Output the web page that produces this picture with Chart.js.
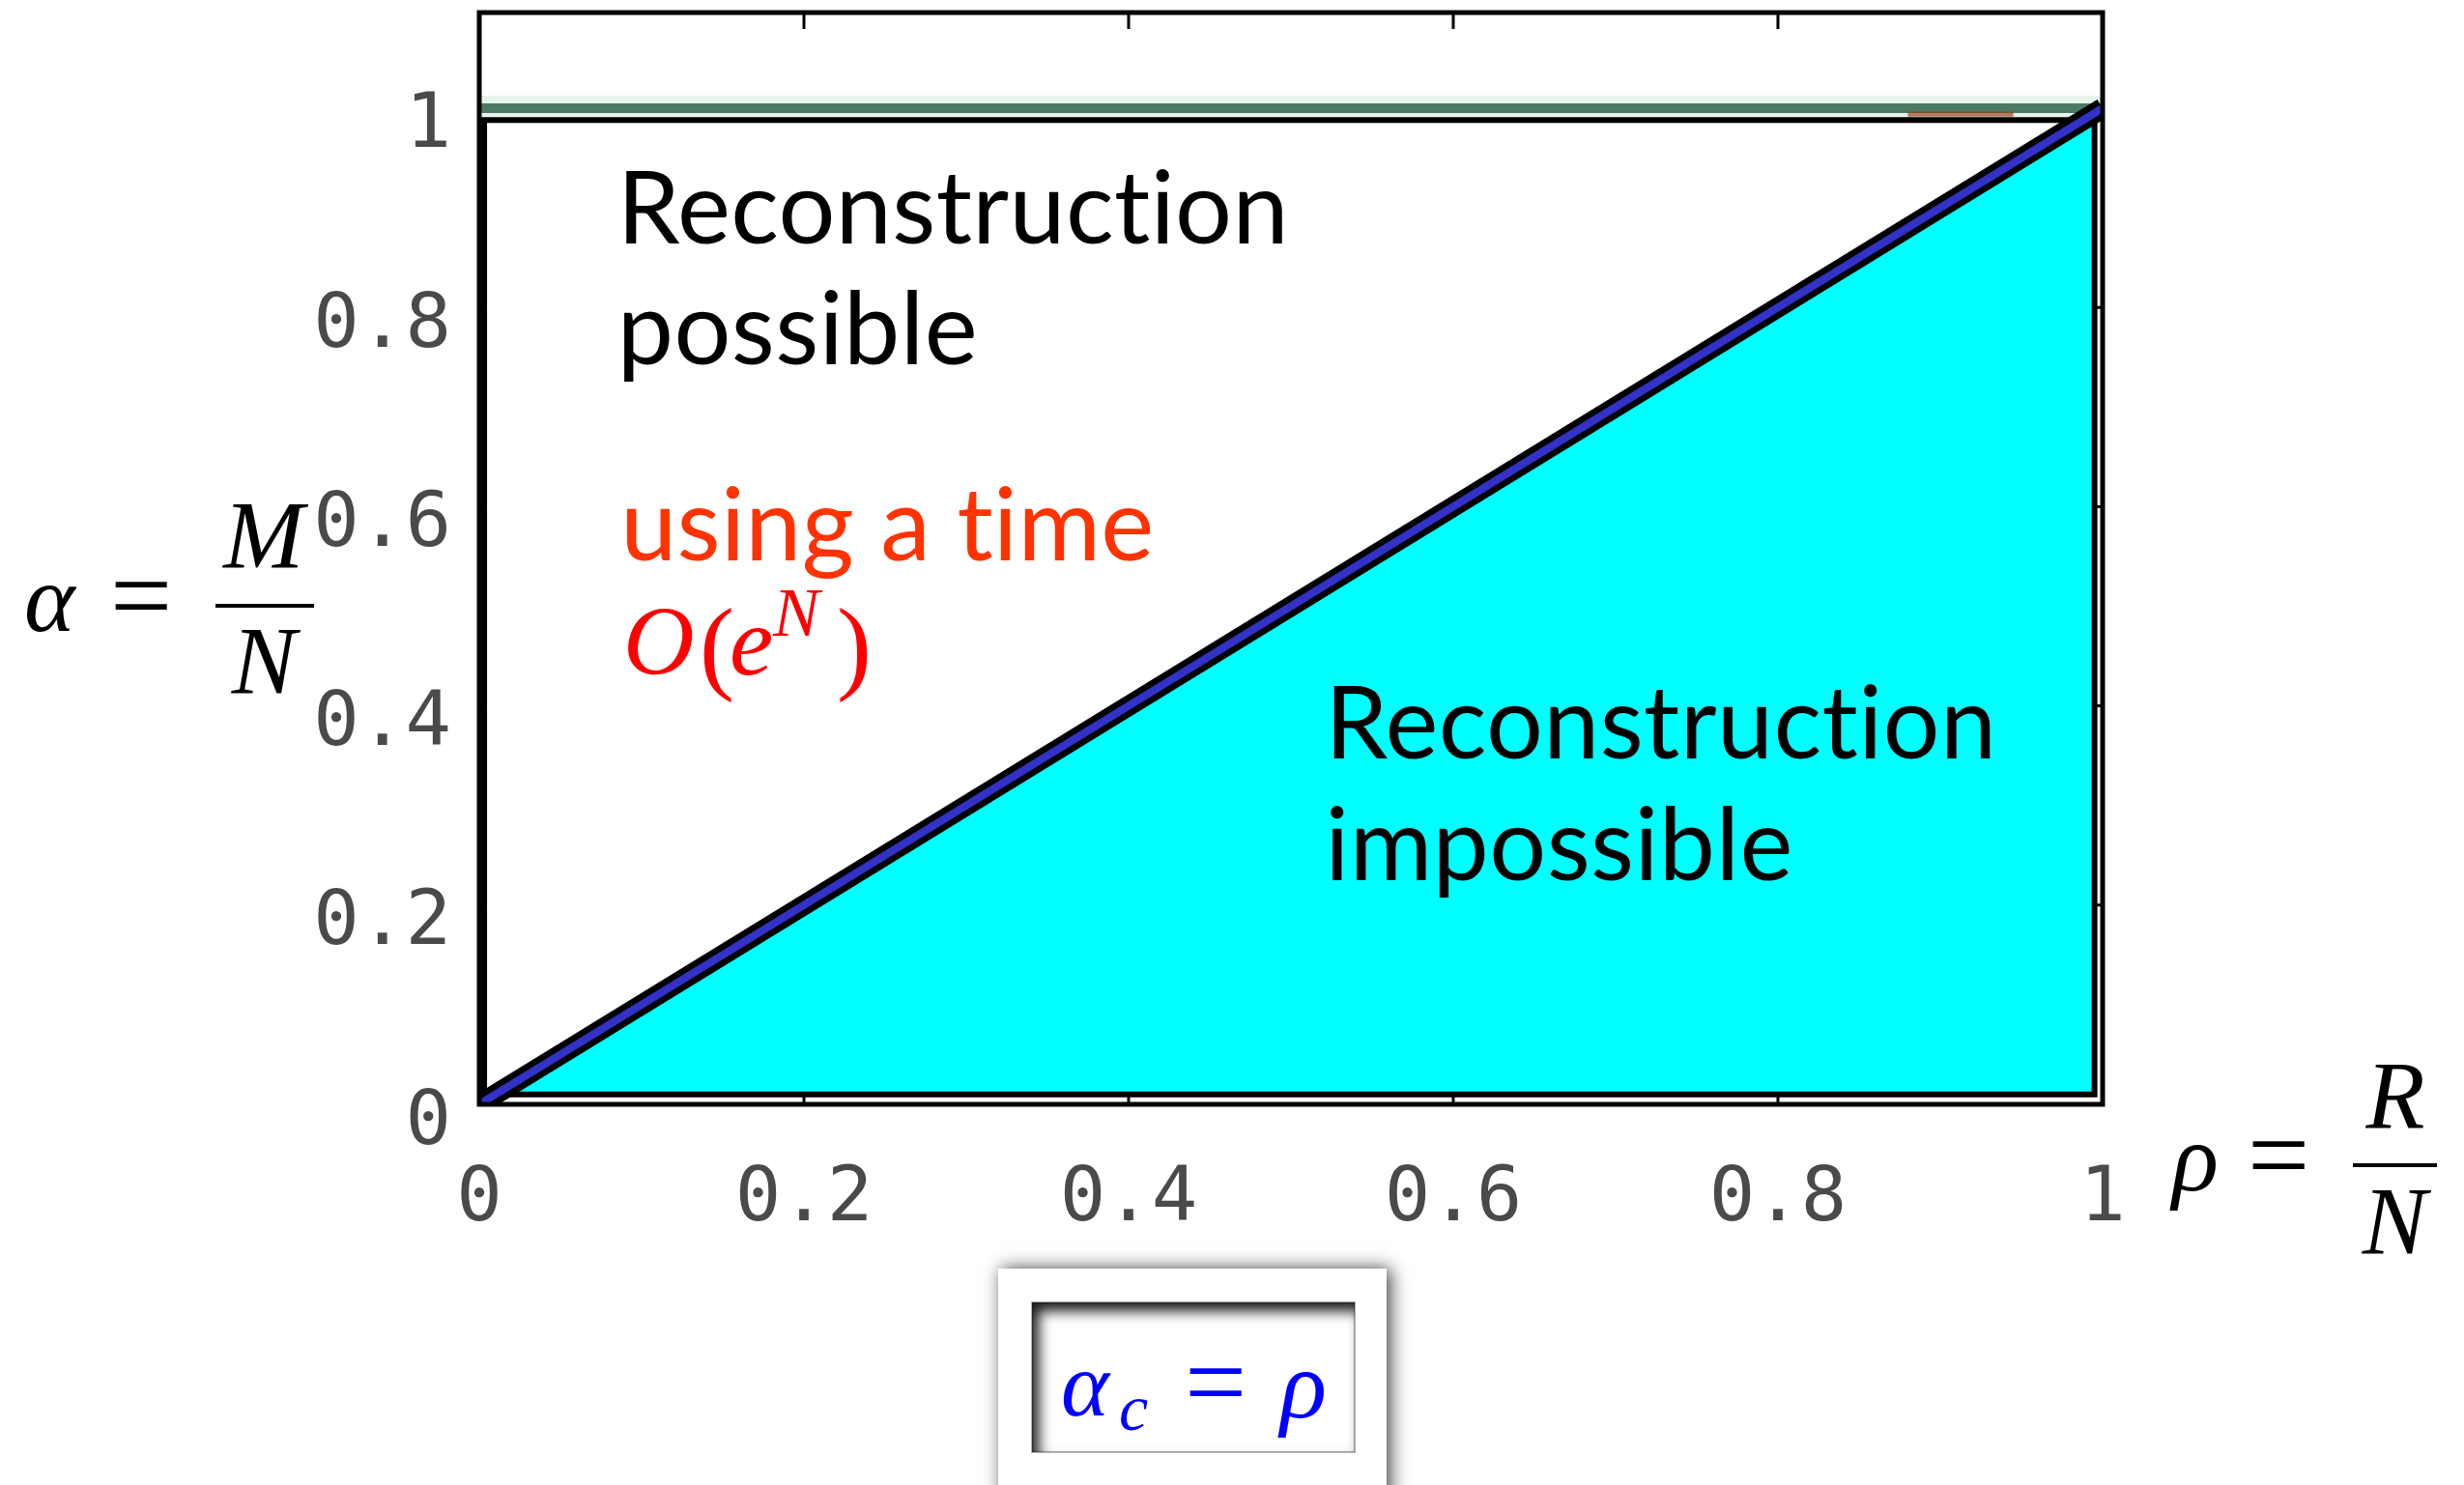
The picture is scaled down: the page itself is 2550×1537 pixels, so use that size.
<!DOCTYPE html>
<html>
<head>
<meta charset="utf-8">
<script src="https://cdn.jsdelivr.net/npm/chart.js@4"></script>
<style>
  html, body { margin: 0; padding: 0; background: #fff; }
  canvas { display: block; }
</style>
</head>
<body>
<canvas id="phase" width="2550" height="1537"></canvas>
<script>
// critical line alpha_c = rho
const rho = [0, 1];
const alphaC = [0, 1];
// region where reconstruction is possible (white patch)
const possibleX = [0.003, 0.003, 0.988, 0.003];
const possibleY = [0.003, 0.988, 0.988, 0.003];
// region where reconstruction is impossible (cyan patch)
const impossibleX = [0.01, 0.995, 0.995, 0.01];
const impossibleY = [0.01, 0.01, 0.995, 0.01];
// alpha = 1 line
const limitX = [0, 1];
const limitY = [1, 1];
// small brown trace under the alpha = 1 line
const traceX = [0.88, 0.945];
const traceY = [0.994, 0.994];

const xTicks = [0, 0.2, 0.4, 0.6, 0.8, 1];
const xTickLabels = ['0', '0.2', '0.4', '0.6', '0.8', '1'];
const yTicks = [0, 0.2, 0.4, 0.6, 0.8, 1];
const yTickLabels = ['0', '0.2', '0.4', '0.6', '0.8', '1'];

const pts = (xs, ys) => xs.map((x, i) => ({ x: x, y: ys[i] }));

const tickFont = { family: '"DejaVu Sans Mono", monospace', size: 79 };
const tickColor = '#4a4a4a';
const serif = '"Liberation Serif", "DejaVu Serif", serif';
const sans = 'Lato, "Open Sans", sans-serif';

function txt(ctx, s, x, y, font, color, align) {
  ctx.font = font;
  ctx.fillStyle = color;
  ctx.textAlign = align || 'left';
  ctx.textBaseline = 'alphabetic';
  ctx.fillText(s, x, y);
}

const frameAndText = {
  id: 'frameAndText',
  beforeDatasetsDraw(chart) {
    // inward tick marks, drawn under the patches
    const { ctx, chartArea: a, scales: { x, y } } = chart;
    ctx.save();
    ctx.strokeStyle = '#000';
    ctx.lineWidth = 3;
    ctx.beginPath();
    xTicks.slice(1, -1).forEach(v => {
      const px = x.getPixelForValue(v);
      ctx.moveTo(px, a.top); ctx.lineTo(px, a.top + 17);
      ctx.moveTo(px, a.bottom); ctx.lineTo(px, a.bottom - 17);
    });
    yTicks.slice(1).forEach(v => {
      const py = y.getPixelForValue(v);
      ctx.moveTo(a.left, py); ctx.lineTo(a.left + 17, py);
      ctx.moveTo(a.right, py); ctx.lineTo(a.right - 17, py);
    });
    ctx.stroke();
    ctx.restore();
  },
  afterDatasetsDraw(chart) {
    const { ctx, chartArea: a } = chart;
    ctx.save();
    ctx.strokeStyle = '#000';
    ctx.lineWidth = 5;
    ctx.strokeRect(a.left, a.top, a.right - a.left, a.bottom - a.top);
    ctx.restore();
  },
  afterDraw(chart) {
    const { ctx, scales: { x, y } } = chart;
    ctx.save();
    const px = v => x.getPixelForValue(v);
    const py = v => y.getPixelForValue(v);

    // labels inside the plot (no ligatures)
    ctx.letterSpacing = '0.4px';
    const big = '104px ' + sans;
    txt(ctx, 'Reconstruction', px(0.085), py(0.864), big, '#000');
    txt(ctx, 'possible', px(0.085), py(0.743), big, '#000');
    txt(ctx, 'using a time', px(0.087), py(0.546), big, '#ff3300');
    txt(ctx, 'Reconstruction', px(0.521), py(0.347), big, '#000');
    txt(ctx, 'impossible', px(0.521), py(0.225), big, '#000');
    ctx.letterSpacing = '0px';

    // O(e^N)
    const red = '#ff0000';
    const bY = py(0.432);
    txt(ctx, 'O', 645, bY, 'italic 102px ' + serif, red);
    txt(ctx, '(', 724, bY + 6, '108px ' + serif, red);
    txt(ctx, 'e', 755, bY, 'italic 102px ' + serif, red);
    txt(ctx, 'N', 800, bY - 40, 'italic 72px ' + serif, red);
    txt(ctx, ')', 866, bY + 6, '108px ' + serif, red);

    // alpha = M / N
    const m = 'italic 100px ' + serif;
    const eq = '114px ' + serif;
    txt(ctx, 'α', 25, 653, m, '#000');
    txt(ctx, '=', 114, 655, eq, '#000');
    ctx.fillStyle = '#000';
    ctx.fillRect(223, 625, 102, 4);
    txt(ctx, 'M', 273, 587, m, '#000', 'center');
    txt(ctx, 'N', 273, 717, m, '#000', 'center');

    // rho = R / N
    txt(ctx, 'ρ', 2248, 1232, m, '#000');
    txt(ctx, '=', 2326, 1234, eq, '#000');
    ctx.fillStyle = '#000';
    ctx.fillRect(2435, 1204, 87, 4);
    txt(ctx, 'R', 2479, 1167, m, '#000', 'center');
    txt(ctx, 'N', 2478, 1297, m, '#000', 'center');

    // boxed alpha_c = rho
    ctx.save();
    ctx.shadowColor = 'rgba(0,0,0,0.75)';
    ctx.shadowBlur = 18;
    ctx.shadowOffsetX = 4;
    ctx.fillStyle = '#fff';
    ctx.fillRect(1033, 1313, 402, 260);
    ctx.restore();

    const ix = 1068, iy = 1348, iw = 334, ih = 155;
    ctx.save();
    ctx.beginPath();
    ctx.rect(ix, iy, iw, ih);
    ctx.clip();
    ctx.shadowColor = 'rgba(0,0,0,0.9)';
    ctx.shadowBlur = 14;
    ctx.shadowOffsetX = 7;
    ctx.shadowOffsetY = 9;
    ctx.beginPath();
    ctx.rect(ix - 100, iy - 100, iw + 200, ih + 200);
    ctx.rect(ix, iy, iw, ih);
    ctx.fillStyle = '#666';
    ctx.fill('evenodd');
    ctx.restore();
    ctx.strokeStyle = 'rgba(0,0,0,0.3)';
    ctx.lineWidth = 2;
    ctx.strokeRect(ix, iy, iw, ih);

    const blue = '#0000ff';
    txt(ctx, 'α', 1098, 1465, 'italic 95px ' + serif, blue);
    txt(ctx, 'c', 1158, 1480, 'italic 68px ' + serif, blue);
    txt(ctx, '=', 1226, 1469, eq, blue);
    txt(ctx, 'ρ', 1325, 1467, 'italic 100px ' + serif, blue);
    ctx.restore();
  }
};

new Chart(document.getElementById('phase'), {
  type: 'line',
  data: {
    datasets: [
      {
        label: 'alpha_c = rho',
        data: pts(rho, alphaC),
        borderColor: '#3232c8',
        borderWidth: 8,
        pointRadius: 0,
        fill: false,
        clip: 0,
        order: 1
      },
      {
        label: 'transition edge',
        data: pts(rho, alphaC),
        borderColor: '#000',
        borderWidth: 21,
        pointRadius: 0,
        fill: false,
        clip: 0,
        order: 2
      },
      {
        label: 'trace',
        data: pts(traceX, traceY),
        borderColor: 'rgba(150,60,20,0.65)',
        borderWidth: 5,
        pointRadius: 0,
        fill: false,
        order: 3
      },
      {
        label: 'alpha = 1',
        data: pts(limitX, limitY),
        borderColor: '#4b7a62',
        borderWidth: 10,
        pointRadius: 0,
        fill: false,
        clip: 0,
        order: 4
      },
      {
        label: 'possible',
        data: pts(possibleX, possibleY),
        borderColor: '#000',
        backgroundColor: '#fff',
        borderWidth: 6,
        pointRadius: 0,
        fill: 'shape',
        order: 5
      },
      {
        label: 'impossible',
        data: pts(impossibleX, impossibleY),
        borderColor: '#000',
        backgroundColor: '#00ffff',
        borderWidth: 6,
        pointRadius: 0,
        fill: 'shape',
        order: 6
      },
      {
        label: 'alpha = 1 halo',
        data: pts(limitX, limitY),
        borderColor: '#e6f4ec',
        borderWidth: 26,
        pointRadius: 0,
        fill: false,
        clip: 0,
        order: 7
      }
    ]
  },
  options: {
    responsive: false,
    devicePixelRatio: 1,
    animation: false,
    events: [],
    layout: { padding: { top: 13, right: 374, bottom: 0, left: 0 } },
    scales: {
      x: {
        type: 'linear',
        min: 0,
        max: 1,
        afterBuildTicks: s => { s.ticks = xTicks.map(v => ({ value: v })); },
        afterFit: s => { s.height = 394; s.paddingLeft = 0; s.paddingRight = 0; },
        grid: { display: false },
        border: { display: false },
        ticks: {
          callback: (v, i) => xTickLabels[i],
          font: tickFont,
          color: tickColor,
          padding: 44,
          maxRotation: 0,
          autoSkip: false
        }
      },
      y: {
        type: 'linear',
        min: 0,
        max: 1.096,
        afterBuildTicks: s => { s.ticks = yTicks.map(v => ({ value: v })); },
        afterFit: s => { s.width = 496; s.paddingTop = 0; s.paddingBottom = 0; },
        grid: { display: false },
        border: { display: false },
        ticks: {
          callback: (v, i) => yTickLabels[i],
          font: tickFont,
          color: tickColor,
          padding: 21,
          labelOffset: 20,
          autoSkip: false
        }
      }
    },
    plugins: {
      legend: { display: false },
      tooltip: { enabled: false }
    }
  },
  plugins: [frameAndText]
});
</script>
</body>
</html>
